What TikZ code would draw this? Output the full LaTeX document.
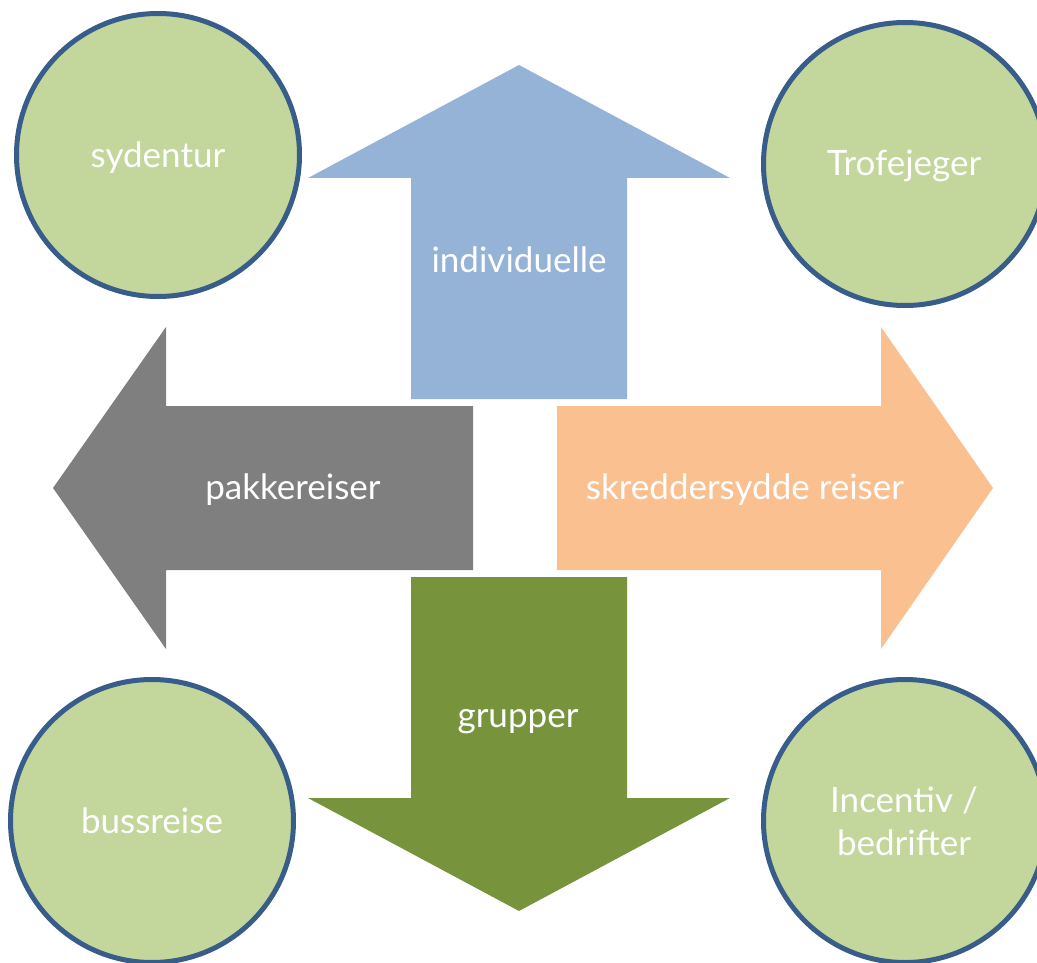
\documentclass[tikz,border=0pt]{standalone}
\usepackage{fontspec}
\setmainfont{Lato}
\definecolor{upblue}{HTML}{95B3D7}
\definecolor{leftgray}{HTML}{7F7F7F}
\definecolor{rightorange}{HTML}{FAC090}
\definecolor{downgreen}{HTML}{77933C}
\definecolor{ballfill}{HTML}{C3D69B}
\definecolor{balledge}{HTML}{385D8A}
\begin{document}
\begin{tikzpicture}[x=1pt,y=-1pt,
  ball/.style={circle,draw=balledge,line width=5pt,fill=ballfill,minimum size=283pt,inner sep=0pt},
  lbl/.style={text=white,anchor=base,font=\fontsize{35}{43}\selectfont,inner sep=0pt,align=center}]
\useasboundingbox (0,0) rectangle (1037,963);
\clip (0,0) rectangle (1037,963);
% four block arrows
\fill[upblue] (519,65) -- (730,178) -- (627,178) -- (627,399) -- (411,399) -- (411,178) -- (308,178) -- cycle;
\fill[leftgray] (53,488) -- (166,327) -- (166,406) -- (473,406) -- (473,570) -- (166,570) -- (166,649) -- cycle;
\fill[rightorange] (993,488) -- (881,327) -- (881,406) -- (557,406) -- (557,570) -- (881,570) -- (881,649) -- cycle;
\fill[downgreen] (519,911) -- (730,798) -- (627,798) -- (627,577) -- (411,577) -- (411,798) -- (308,798) -- cycle;
% arrow captions
\node[lbl] (up) at (519,272) {individuelle};
\node[lbl] (left) at (293,499) {pakkereiser};
\node[lbl] (right) at (745,499) {skreddersydde reiser};
\node[lbl] (down) at (518,727) {grupper};
% corner circles
\node[ball] (tl) at (158,155) {};
\node[ball] (tr) at (905,164) {};
\node[ball] (bl) at (152,821) {};
\node[ball] (br) at (905,821) {};
\node[lbl] (tltext) at (158,168) {sydentur};
\node[lbl] (trtext) at (904,176) {Trofejeger};
\node[lbl] (bltext) at (152,833) {bussreise};
\node[lbl] (brtext) at (904,855) {Incentiv /\\bedrifter};
\end{tikzpicture}
\end{document}
